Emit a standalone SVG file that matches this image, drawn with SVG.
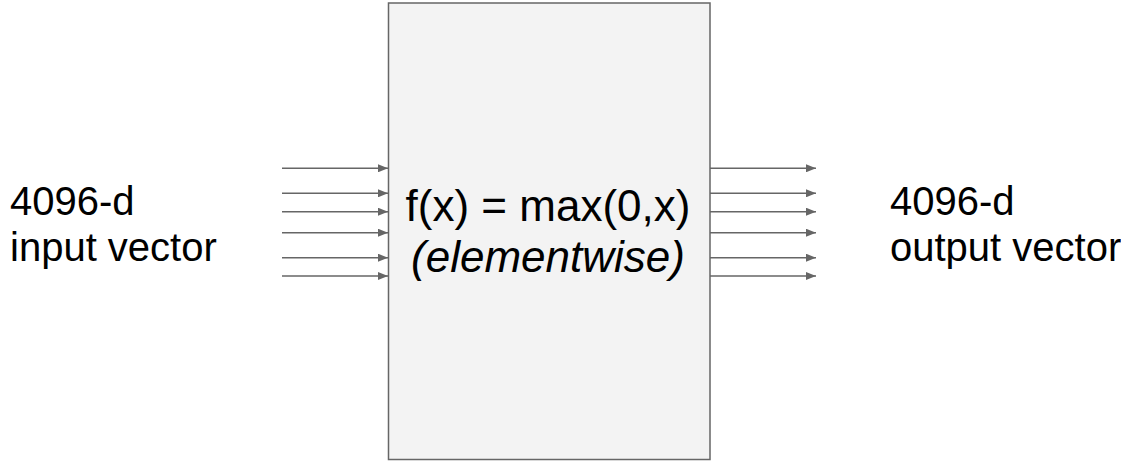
<svg xmlns="http://www.w3.org/2000/svg" width="1121" height="466" viewBox="0 0 1121 466">
<style>
.lbl{font-family:"Liberation Sans",Arial,sans-serif;font-size:40px;fill:#000}
.fn{font-family:"Liberation Sans",Arial,sans-serif;font-size:44px;fill:#000;text-anchor:middle}
.ar{stroke:#666;stroke-width:1.5;fill:none;marker-end:url(#ah)}
</style>
<defs>
<marker id="ah" viewBox="0 0 10 8" refX="10" refY="4" markerWidth="10" markerHeight="8" markerUnits="userSpaceOnUse" orient="auto">
<path d="M0,0 L10,4 L0,8 Z" fill="#666"/>
</marker>
</defs>
<rect width="1121" height="466" fill="#fff"/>
<g id="relu-box">
<rect x="388.5" y="3" width="321.5" height="456.5" fill="#f3f3f3" stroke="#666" stroke-width="1.5"/>
<text class="fn" x="548" y="221">f(x) = max(0,x)</text>
<text class="fn" x="548" y="271.5" font-style="italic">(elementwise)</text>
</g>
<g id="input-label">
<text class="lbl" x="10" y="214.5">4096-d</text>
<text class="lbl" x="10" y="261">input vector</text>
</g>
<g id="output-label">
<text class="lbl" x="890" y="214.5">4096-d</text>
<text class="lbl" x="890" y="261">output vector</text>
</g>
<g id="connectors">
<path class="ar" d="M282,168.3H388"/>
<path class="ar" d="M282,193.3H388"/>
<path class="ar" d="M282,211.7H388"/>
<path class="ar" d="M282,232.7H388"/>
<path class="ar" d="M282,257.7H388"/>
<path class="ar" d="M282,276H388"/>
<path class="ar" d="M710,168.3H816"/>
<path class="ar" d="M710,193.3H816"/>
<path class="ar" d="M710,211.7H816"/>
<path class="ar" d="M710,232.7H816"/>
<path class="ar" d="M710,257.7H816"/>
<path class="ar" d="M710,276H816"/>
</g>
</svg>
